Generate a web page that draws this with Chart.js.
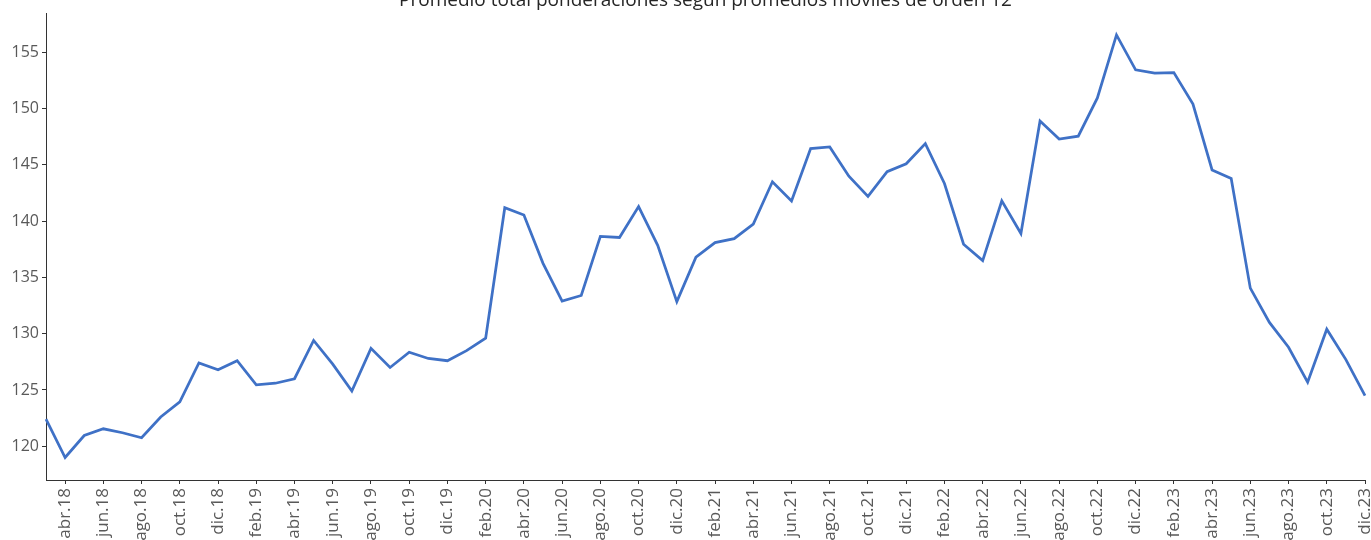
<!DOCTYPE html>
<html>
<head>
<meta charset="utf-8">
<script src="https://cdn.jsdelivr.net/npm/chart.js@4.4.1/dist/chart.umd.min.js"></script>
<style>
  html, body { margin: 0; padding: 0; background: #fff; overflow: hidden; width: 1371px; height: 540px; }
  #wrap { position: absolute; left: 0; top: -16px; width: 1371px; height: 556px; }
</style>
</head>
<body>
<div id="wrap"><canvas id="c" width="1371" height="556"></canvas></div>
<script>
const titleText = 'Promedio total ponderaciones según promedios móviles de orden 12';

const categories = [
  'mar.18','abr.18','may.18','jun.18','jul.18','ago.18','sep.18','oct.18','nov.18','dic.18',
  'ene.19','feb.19','mar.19','abr.19','may.19','jun.19','jul.19','ago.19','sep.19','oct.19','nov.19','dic.19',
  'ene.20','feb.20','mar.20','abr.20','may.20','jun.20','jul.20','ago.20','sep.20','oct.20','nov.20','dic.20',
  'ene.21','feb.21','mar.21','abr.21','may.21','jun.21','jul.21','ago.21','sep.21','oct.21','nov.21','dic.21',
  'ene.22','feb.22','mar.22','abr.22','may.22','jun.22','jul.22','ago.22','sep.22','oct.22','nov.22','dic.22',
  'ene.23','feb.23','mar.23','abr.23','may.23','jun.23','jul.23','ago.23','sep.23','oct.23','nov.23','dic.23'
];

const promedio = [
  122.4, 119.0, 120.95, 121.55, 121.2, 120.75, 122.6, 123.95, 127.4, 126.8,
  127.6, 125.45, 125.6, 126.0, 129.4, 127.3, 124.9, 128.7, 127.0, 128.35, 127.8, 127.6,
  128.5, 129.6, 141.2, 140.55, 136.25, 132.9, 133.4, 138.65, 138.55, 141.3, 137.85, 132.85,
  136.8, 138.1, 138.45, 139.75, 143.5, 141.8, 146.45, 146.6, 144.0, 142.2, 144.4, 145.1,
  146.9, 143.35, 137.95, 136.5, 141.8, 138.9, 148.9, 147.3, 147.55, 150.95, 156.55, 153.45,
  153.15, 153.2, 150.4, 144.55, 143.8, 134.05, 131.0, 128.8, 125.7, 130.4, 127.7, 124.5
];

const yTicks = [120, 125, 130, 135, 140, 145, 150, 155];
const yMin = 117;
const yMax = 158.5;

const axisColor = '#333333';
const labelColor = '#595959';
const font = "'Open Sans', 'Liberation Sans', sans-serif";

new Chart(document.getElementById('c'), {
  type: 'line',
  data: {
    labels: categories,
    datasets: [{
      label: 'Promedio',
      data: promedio,
      borderColor: '#3F71C6',
      backgroundColor: '#3F71C6',
      borderWidth: 2.75,
      pointRadius: 0,
      pointHoverRadius: 0,
      tension: 0,
      fill: false
    }]
  },
  options: {
    responsive: false,
    devicePixelRatio: 1,
    animation: false,
    events: [],
    layout: { padding: { left: 0, right: 6, top: 0, bottom: 0 } },
    plugins: {
      legend: { display: false },
      tooltip: { enabled: false },
      title: {
        display: true,
        text: titleText,
        fullSize: false,
        color: '#262626',
        font: { family: font, size: 19, weight: 'normal' },
        padding: { top: 5.6, bottom: 0.6 }
      }
    },
    scales: {
      x: {
        type: 'category',
        offset: false,
        grid: {
          display: true,
          drawOnChartArea: false,
          drawTicks: true,
          tickLength: 4,
          tickColor: (ctx) => (ctx.index % 2 === 1 ? axisColor : 'rgba(0,0,0,0)')
        },
        border: { display: true, color: axisColor, width: 1 },
        ticks: {
          autoSkip: false,
          minRotation: 90,
          maxRotation: 90,
          padding: 4,
          color: labelColor,
          font: { family: font, size: 17 },
          callback: (val, idx) => (idx % 2 === 1 ? categories[idx] : '')
        },
        afterFit: (scale) => { scale.height = 60; scale.paddingLeft = 0; scale.paddingRight = 0; }
      },
      y: {
        type: 'linear',
        min: yMin,
        max: yMax,
        grid: {
          display: true,
          drawOnChartArea: false,
          drawTicks: true,
          tickLength: 4,
          tickColor: axisColor
        },
        border: { display: true, color: axisColor, width: 1 },
        ticks: {
          padding: 3,
          color: labelColor,
          font: { family: font, size: 16 }
        },
        afterBuildTicks: (scale) => { scale.ticks = yTicks.map(v => ({ value: v })); },
        afterFit: (scale) => { scale.width = 46; scale.paddingTop = 0; scale.paddingBottom = 0; }
      }
    }
  }
});
</script>
</body>
</html>
